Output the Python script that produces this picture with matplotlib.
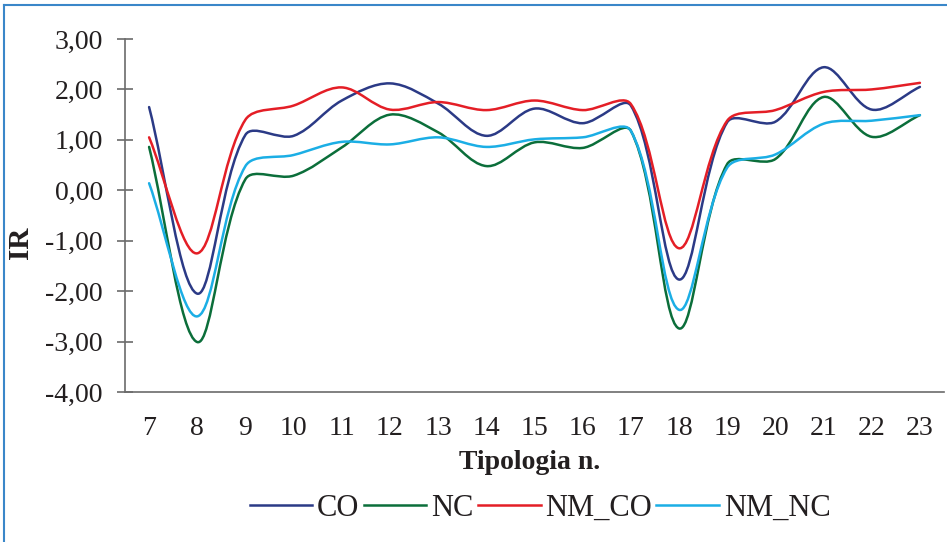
import matplotlib.pyplot as plt
import numpy as np
from matplotlib.path import Path
from matplotlib.patches import PathPatch
from matplotlib.lines import Line2D
from matplotlib.ticker import FuncFormatter

# Tipologie e valori IR per serie
tipologia = [7, 8, 9, 10, 11, 12, 13, 14, 15, 16, 17, 18, 19, 20, 21, 22, 23]
co = [1.65, -2.05, 1.10, 1.08, 1.78, 2.12, 1.72, 1.08, 1.62, 1.33, 1.68, -1.77, 1.35, 1.36, 2.44, 1.60, 2.05]
nc = [0.86, -3.01, 0.22, 0.29, 0.85, 1.50, 1.15, 0.48, 0.95, 0.84, 1.18, -2.74, 0.52, 0.62, 1.85, 1.06, 1.49]
nm_co = [1.05, -1.25, 1.40, 1.68, 2.04, 1.60, 1.75, 1.59, 1.78, 1.59, 1.71, -1.15, 1.38, 1.59, 1.95, 2.00, 2.13]
nm_nc = [0.14, -2.50, 0.48, 0.70, 0.96, 0.91, 1.05, 0.86, 1.01, 1.05, 1.18, -2.37, 0.45, 0.71, 1.32, 1.38, 1.49]

serie = [("CO", co, "#2B3A86"), ("NC", nc, "#0B6E3A"),
         ("NM_CO", nm_co, "#E41E26"), ("NM_NC", nm_nc, "#1BAEE5")]


def smooth_path(ax, x, y, f=1 / 3):
    # linea smussata tipo foglio di calcolo: Bezier cubiche con tangenti
    # pesate sulla lunghezza dei segmenti (calcolate in pixel)
    tr = ax.transData
    p = tr.transform(np.column_stack([x, y]).astype(float))
    ext = np.vstack([p[0], p, p[-1]])
    verts = [p[0]]
    codes = [Path.MOVETO]
    for i in range(len(p) - 1):
        p0, p1, p2, p3 = ext[i], ext[i + 1], ext[i + 2], ext[i + 3]
        d01 = np.hypot(*(p1 - p0))
        d12 = np.hypot(*(p2 - p1))
        d23 = np.hypot(*(p3 - p2))
        c1 = p1 + (p2 - p0) * f * d12 / (d01 + d12)
        c2 = p2 - (p3 - p1) * f * d12 / (d12 + d23)
        verts += [c1, c2, p2]
        codes += [Path.CURVE4] * 3
    verts = tr.inverted().transform(np.array(verts))
    return Path(verts, codes)


plt.rcParams["font.family"] = ["Liberation Serif", "DejaVu Serif"]
testo = "#231F20"

fig = plt.figure(figsize=(9.47, 5.42), dpi=100)
ax = fig.add_axes([125 / 947, 1 - 392 / 542, 819 / 947, 353 / 542])
ax.set_xlim(6.5, 23.5)
ax.set_ylim(-4, 3)

handles = []
for nome, val, col in serie:
    ax.add_patch(PathPatch(smooth_path(ax, tipologia, val), fill=False,
                           edgecolor=col, lw=1.8, capstyle="round", joinstyle="round"))
    handles.append(Line2D([], [], color=col, lw=1.8, label=nome))

ax.set_xticks(tipologia)
ax.set_yticks(np.arange(-4, 4, 1))
ax.yaxis.set_major_formatter(FuncFormatter(lambda v, p: f"{v:.2f}".replace(".", ",")))

for s in ["top", "right"]:
    ax.spines[s].set_visible(False)
for s in ["left", "bottom"]:
    ax.spines[s].set_color("#6B6B6B")
    ax.spines[s].set_linewidth(1.2)

ax.tick_params(axis="y", direction="inout", length=12, width=1.2, color="#6B6B6B",
               labelsize=20, labelcolor=testo, pad=10)
ax.tick_params(axis="x", length=0, labelsize=20, labelcolor=testo, pad=17)

ax.set_xlabel("Tipologia n.", fontsize=20, fontweight="bold", color=testo, va="center")
ax.xaxis.set_label_coords(0.4945, -0.201)
ax.set_ylabel("IR", fontsize=21, fontweight="bold", color=testo, va="center")
ax.yaxis.set_label_coords(-0.128, 0.422)

fig.legend(handles=handles, loc="center", bbox_to_anchor=(540 / 947, 1 - 508 / 542),
           ncol=4, frameon=False, fontsize=22, handlelength=2.05, handletextpad=0.15,
           columnspacing=0.15, labelcolor=testo)

# cornice blu (lati sinistro e superiore)
fig.add_artist(Line2D([4 / 947, 4 / 947], [0, 1 - 5 / 542], color="#3A87C9", lw=1.5))
fig.add_artist(Line2D([4 / 947, 1], [1 - 5 / 542, 1 - 5 / 542], color="#3A87C9", lw=1.5))

fig.savefig("out.png", dpi=100)
